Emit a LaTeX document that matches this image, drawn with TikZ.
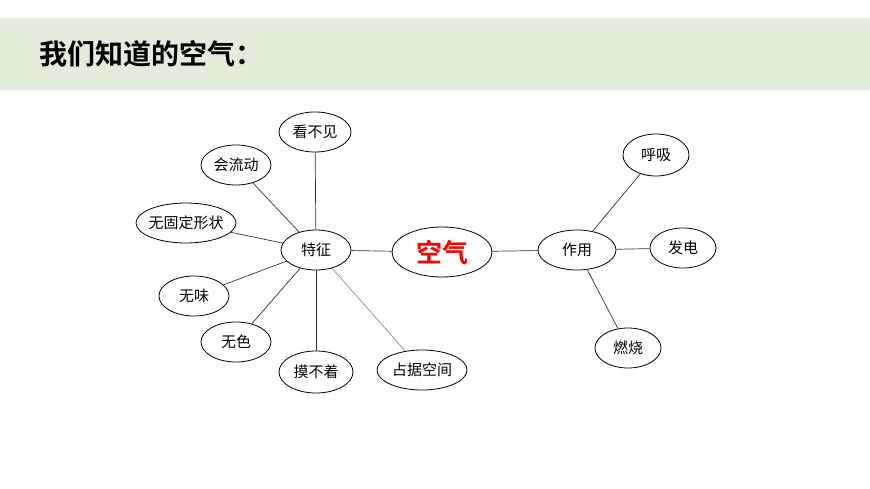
\documentclass[tikz,border=0pt]{standalone}
\usepackage{fontspec}
\newfontfamily\cjk{Noto Sans CJK SC}
\newfontfamily\cjkb{Noto Sans CJK SC Bold}
\usetikzlibrary{shapes.geometric}
\begin{document}
\begin{tikzpicture}[x=1pt,y=-1pt,
  el/.style={ellipse,draw=black,line width=0.8pt,fill=white,inner xsep=-12pt,inner ysep=0pt,font=\cjk\fontsize{15}{17}\selectfont},
  ln/.style={draw=black!80,line width=0.7pt}]
\useasboundingbox (0,0) rectangle (870,489);
\fill[fill={rgb,255:red,226;green,236;blue,218}] (0,18) rectangle (870,90);
\node[anchor=west,font=\cjkb\fontsize{28}{32}\selectfont] (title) at (36,54) {我们知道的空气：};
\node[el,minimum width=70,minimum height=40] (tz) at (316,250) {特征};
\node[el,minimum width=100,minimum height=50,text=red,font=\cjkb\fontsize{26}{30}\selectfont] (kq) at (442,252) {空气};
\node[el,minimum width=78,minimum height=40] (zy) at (577,250) {作用};
\node[el,minimum width=72,minimum height=40] (a1) at (315,132) {看不见};
\node[el,minimum width=70,minimum height=40] (a2) at (236,165) {会流动};
\node[el,minimum width=100,minimum height=40] (a3) at (186,223) {无固定形状};
\node[el,minimum width=70,minimum height=40] (a4) at (194,296) {无味};
\node[el,minimum width=70,minimum height=40] (a5) at (236,342) {无色};
\node[el,minimum width=74,minimum height=42] (a6) at (316,372) {摸不着};
\node[el,minimum width=90,minimum height=40] (a7) at (422,370) {占据空间};
\node[el,minimum width=66,minimum height=42] (b1) at (656,155) {呼吸};
\node[el,minimum width=66,minimum height=40] (b2) at (683,248) {发电};
\node[el,minimum width=66,minimum height=40] (b3) at (628,348) {燃烧};
\foreach \n in {a1,a2,a3,a4,a5,a6} \draw[ln] (tz) -- (\n);
\draw[draw=black!50,line width=0.6pt] (tz) -- (a7);
\draw[ln] (tz) -- (kq);
\draw[ln] (kq) -- (zy);
\foreach \n in {b1,b2,b3} \draw[ln] (zy) -- (\n);
\end{tikzpicture}
\end{document}
